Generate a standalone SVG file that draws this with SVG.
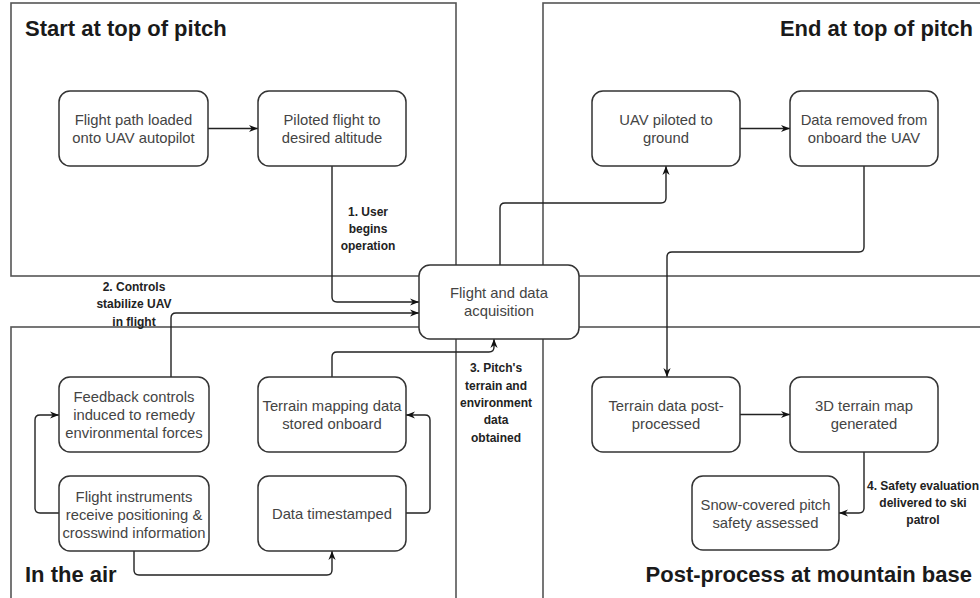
<svg xmlns="http://www.w3.org/2000/svg" width="980" height="598" viewBox="0 0 980 598">
<style>
.cont{fill:none;stroke:#555;stroke-width:1.6}
.node rect{fill:#fff;stroke:#333;stroke-width:1.5}
.nt{font-family:"Liberation Sans",Arial,sans-serif;font-size:14.8px;fill:#444;text-anchor:middle}
.title{font-family:"Liberation Sans",Arial,sans-serif;font-size:22px;font-weight:bold;fill:#1a1a1a}
.lbl{font-family:"Liberation Sans",Arial,sans-serif;font-size:12px;font-weight:bold;fill:#222;text-anchor:middle}
.edge{fill:none;stroke:#222;stroke-width:1.4;marker-end:url(#arr)}
</style>
<defs>
<marker id="arr" viewBox="0 0 10 10" refX="10" refY="5" markerWidth="9" markerHeight="9" markerUnits="userSpaceOnUse" orient="auto">
<path d="M0,1 L10,5 L0,9 L3,5 z" fill="#111"/>
</marker>
</defs>
<rect width="980" height="598" fill="#fff"/>
<g id="containers">
<g id="start-container"><rect class="cont" x="11" y="3" width="445" height="273"/><text class="title" x="25" y="36">Start at top of pitch</text></g>
<g id="end-container"><rect class="cont" x="543" y="3" width="450" height="273"/><text class="title" x="973" y="36" text-anchor="end">End at top of pitch</text></g>
<g id="air-container"><rect class="cont" x="11" y="327" width="445" height="285"/><text class="title" x="25" y="582">In the air</text></g>
<g id="base-container"><rect class="cont" x="543" y="327" width="450" height="285"/><text class="title" x="972" y="582" text-anchor="end">Post-process at mountain base</text></g>
</g>
<g id="connectors">
<path class="edge" d="M208,128.5 H258"/>
<path class="edge" d="M332,166 V297 Q332,302 337,302 H419"/>
<path class="edge" d="M171,377 V318 Q171,313 176,313 H419"/>
<path class="edge" d="M332,377 V357 Q332,352 337,352 H489 Q494,352 494,347 V339"/>
<path class="edge" d="M500,265 V208 Q500,203 505,203 H661 Q666,203 666,198 V166"/>
<path class="edge" d="M740,128.5 H790"/>
<path class="edge" d="M864,166 V247 Q864,252 859,252 H672 Q667,252 667,257 V377"/>
<path class="edge" d="M740,414.5 H790"/>
<path class="edge" d="M864,452 V508 Q864,513 859,513 H839"/>
<path class="edge" d="M59,513 H40 Q35,513 35,508 V420 Q35,415 40,415 H59"/>
<path class="edge" d="M134,551 V570 Q134,575 139,575 H327 Q332,575 332,570 V551"/>
<path class="edge" d="M406,513 H425 Q430,513 430,508 V420 Q430,415 425,415 H406"/>
<text class="lbl" x="368" y="216">1. User</text>
<text class="lbl" x="368" y="233">begins</text>
<text class="lbl" x="368" y="250">operation</text>
<text class="lbl" x="134" y="291">2. Controls</text>
<text class="lbl" x="134" y="308">stabilize UAV</text>
<text class="lbl" x="134" y="326">in flight</text>
<text class="lbl" x="496" y="372">3. Pitch's</text>
<text class="lbl" x="496" y="390">terrain and</text>
<text class="lbl" x="496" y="407">environment</text>
<text class="lbl" x="496" y="424">data</text>
<text class="lbl" x="496" y="442">obtained</text>
<text class="lbl" x="923" y="490">4. Safety evaluation</text>
<text class="lbl" x="923" y="507">delivered to ski</text>
<text class="lbl" x="923" y="524">patrol</text>
</g>
<g id="n-flightpath" class="node"><rect x="59" y="91" width="149" height="75" rx="11"/><text class="nt" x="133.5" y="125">Flight path loaded</text><text class="nt" x="133.5" y="143">onto UAV autopilot</text></g>
<g id="n-piloted" class="node"><rect x="258" y="91" width="148" height="75" rx="11"/><text class="nt" x="332" y="125">Piloted flight to</text><text class="nt" x="332" y="143">desired altitude</text></g>
<g id="n-uavground" class="node"><rect x="592" y="91" width="148" height="75" rx="11"/><text class="nt" x="666" y="125">UAV piloted to</text><text class="nt" x="666" y="143">ground</text></g>
<g id="n-dataremoved" class="node"><rect x="790" y="91" width="148" height="75" rx="11"/><text class="nt" x="864" y="125">Data removed from</text><text class="nt" x="864" y="143">onboard the UAV</text></g>
<g id="n-acq" class="node"><rect x="419" y="265" width="160" height="74" rx="11"/><text class="nt" x="499" y="298">Flight and data</text><text class="nt" x="499" y="316">acquisition</text></g>
<g id="n-feedback" class="node"><rect x="59" y="377" width="150" height="75" rx="11"/><text class="nt" x="134" y="402">Feedback controls</text><text class="nt" x="134" y="420">induced to remedy</text><text class="nt" x="134" y="438">environmental forces</text></g>
<g id="n-instruments" class="node"><rect x="59" y="476" width="150" height="75" rx="11"/><text class="nt" x="134" y="502">Flight instruments</text><text class="nt" x="134" y="520">receive positioning &amp;</text><text class="nt" x="134" y="538">crosswind information</text></g>
<g id="n-terrainstored" class="node"><rect x="258" y="377" width="148" height="75" rx="11"/><text class="nt" x="332" y="411">Terrain mapping data</text><text class="nt" x="332" y="429">stored onboard</text></g>
<g id="n-timestamped" class="node"><rect x="258" y="476" width="148" height="75" rx="11"/><text class="nt" x="332" y="519">Data timestamped</text></g>
<g id="n-postprocessed" class="node"><rect x="592" y="377" width="148" height="75" rx="11"/><text class="nt" x="666" y="411">Terrain data post-</text><text class="nt" x="666" y="429">processed</text></g>
<g id="n-3dmap" class="node"><rect x="790" y="377" width="148" height="75" rx="11"/><text class="nt" x="864" y="411">3D terrain map</text><text class="nt" x="864" y="429">generated</text></g>
<g id="n-snow" class="node"><rect x="692" y="476" width="147" height="74" rx="11"/><text class="nt" x="765.5" y="510">Snow-covered pitch</text><text class="nt" x="765.5" y="528">safety assessed</text></g>
</svg>
